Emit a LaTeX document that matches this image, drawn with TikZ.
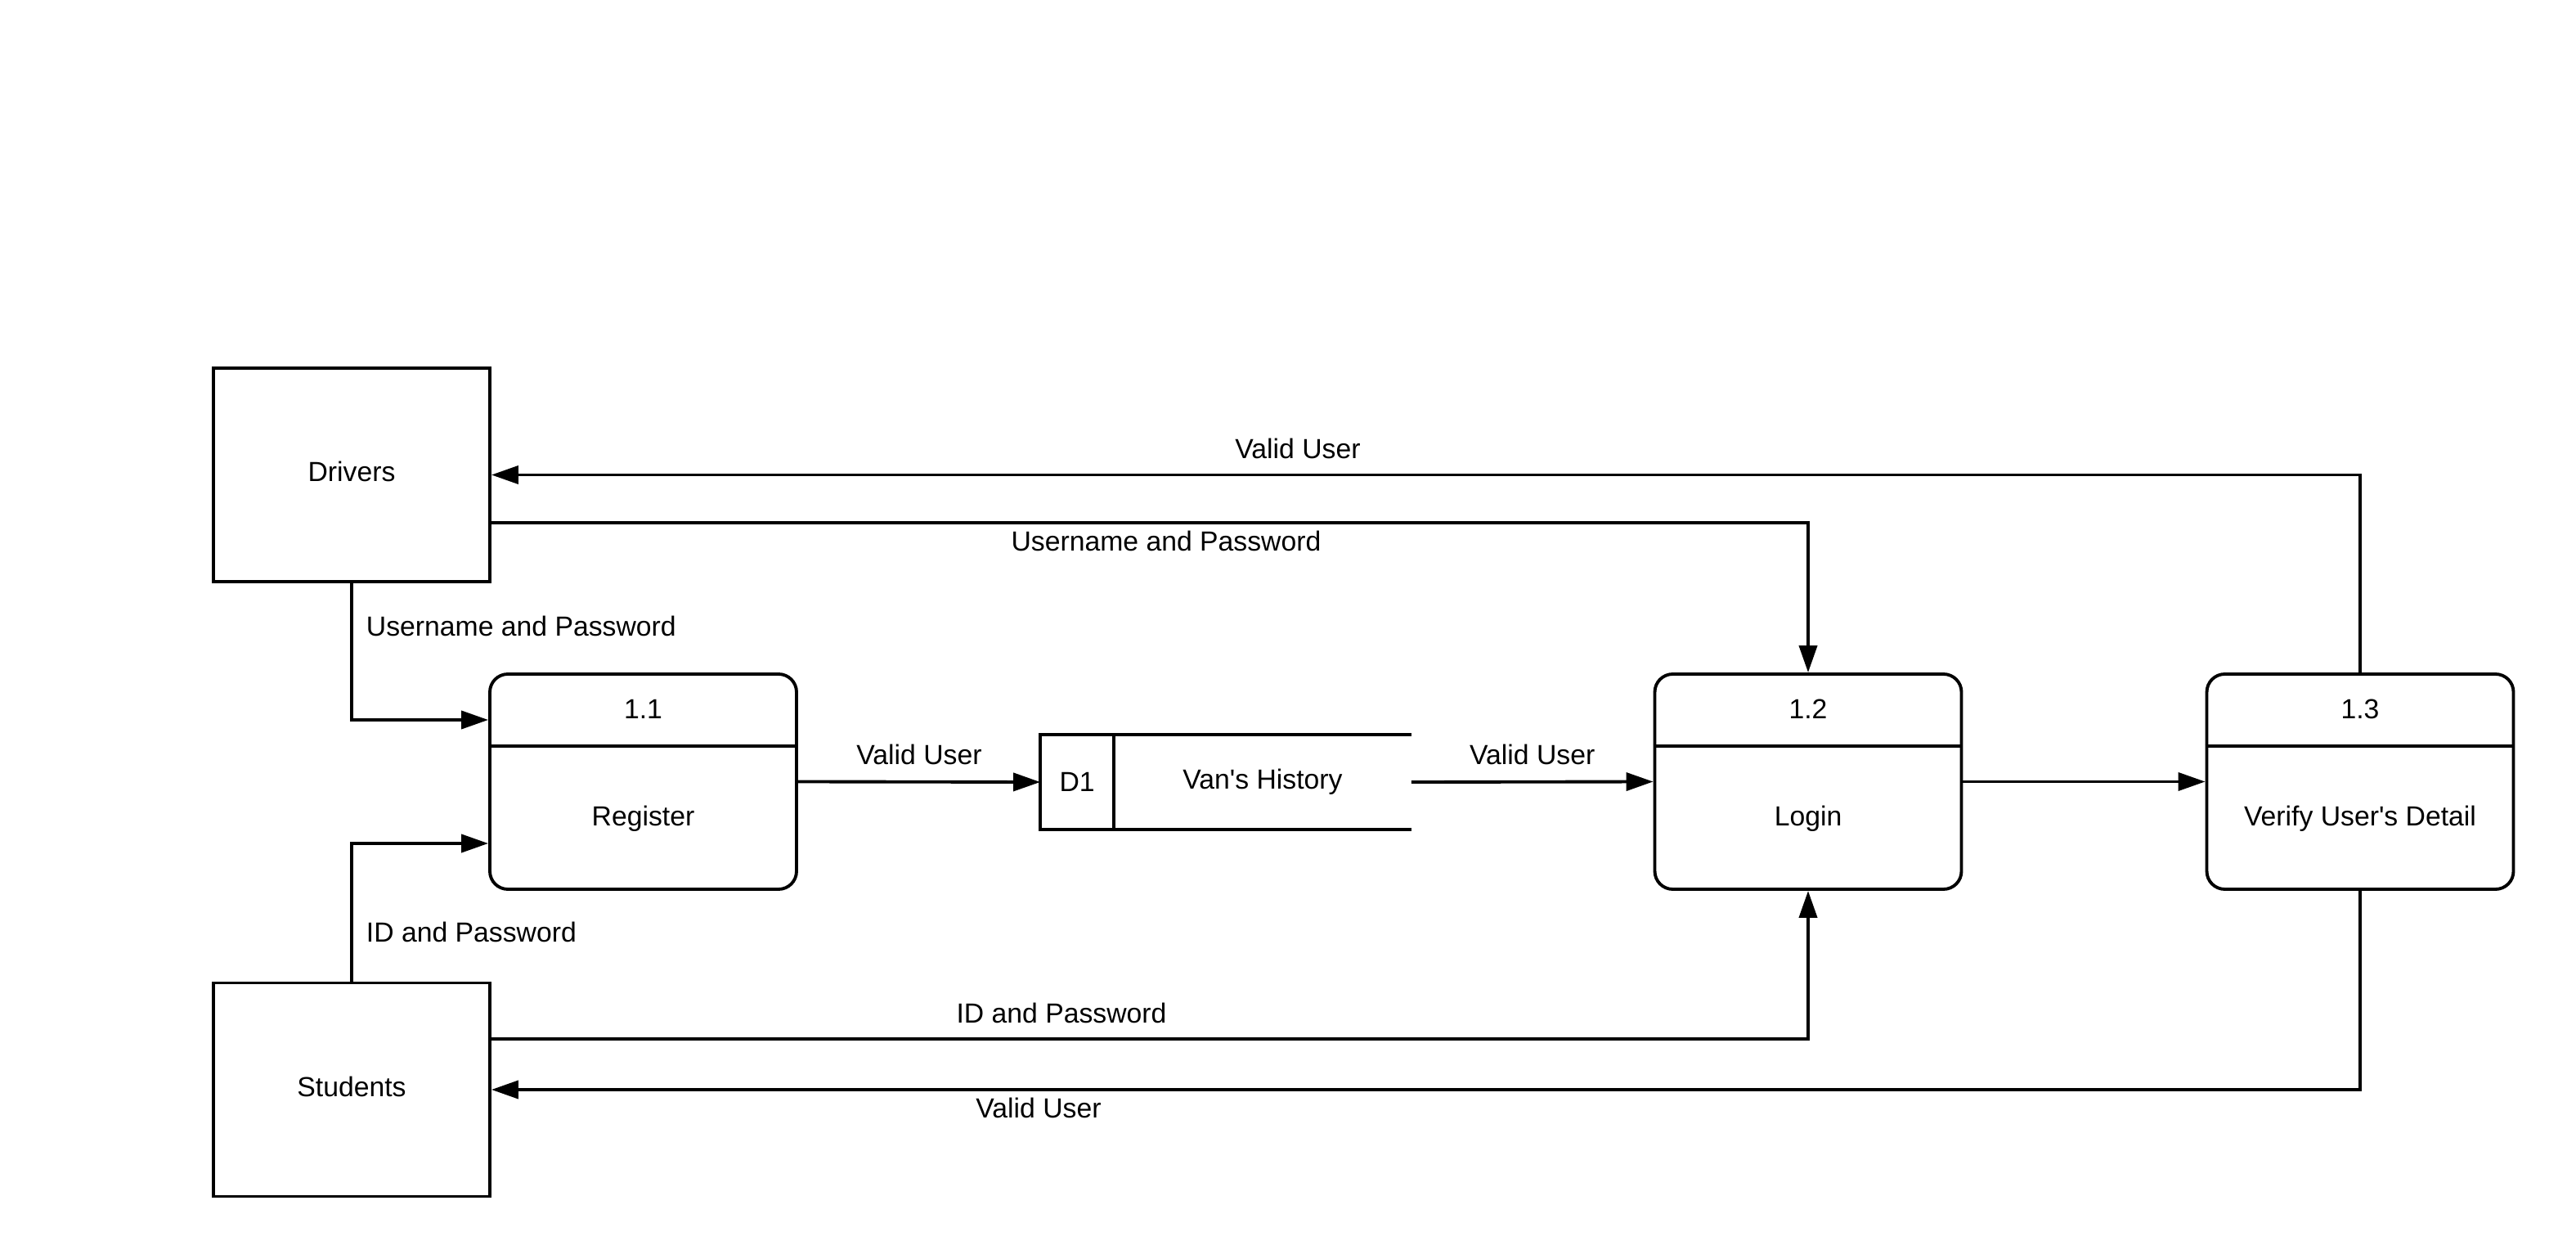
\documentclass[tikz,border=0pt]{standalone}
\usepackage{fontspec}
\setmainfont{Liberation Sans}
\usetikzlibrary{arrows.meta,positioning}

\begin{document}
\begin{tikzpicture}[line width=1.1pt, font=\fontsize{9.6}{11.5}\selectfont,
  entity/.style={draw, minimum width=3.38cm, minimum height=2.61cm, inner sep=0pt},
  procbox/.style={draw, rounded corners=2.2mm, minimum width=3.75cm, minimum height=2.63cm, inner sep=0pt},
  storebox/.style={minimum width=4.5cm, minimum height=1.125cm, inner sep=0pt},
  flow/.style={-{Triangle[length=3.3mm,width=2.2mm]}},
  lbl/.style={inner sep=0pt}]
\useasboundingbox (0,0) rectangle (31.5,15.38);

% external entities
\node [entity] (drivers) at (4.30,9.575) {};
\node (driverstxt) at ([yshift=0.4mm]drivers.center) {Drivers};
\node [entity] (students) at (4.30,2.06) {};
\node (studentstxt) at ([yshift=0.4mm]students.center) {Students};

% processes
\node [procbox] (register) at (7.865,5.825) {};
\draw ([yshift=-9mm]register.north west) -- ([yshift=-9mm]register.north east);
\node (registerno) at ([yshift=-4.5mm]register.north) {1.1};
\node (registertxt) at ([yshift=-4.5mm]register.center) {Register};

\node [procbox] (login) at (22.11,5.825) {};
\draw ([yshift=-9mm]login.north west) -- ([yshift=-9mm]login.north east);
\node (loginno) at ([yshift=-4.5mm]login.north) {1.2};
\node (logintxt) at ([yshift=-4.5mm]login.center) {Login};

\node [procbox] (verify) at (28.86,5.825) {};
\draw ([yshift=-9mm]verify.north west) -- ([yshift=-9mm]verify.north east);
\node (verifyno) at ([yshift=-4.5mm]verify.north) {1.3};
\node (verifytxt) at ([yshift=-4.5mm]verify.center) {Verify User\textquotesingle s Detail};

% data store
\node [storebox] (store) at (14.99,5.82) {};
\draw (store.north east) -- (store.north west) -- (store.south west) -- (store.south east);
\draw ([xshift=9mm]store.north west) -- ([xshift=9mm]store.south west);
\node (storeid) at ([xshift=4.5mm]store.west) {D1};
\node (storename) at ([xshift=4.5mm]store.center) {Van\textquotesingle s History};

% flows
\draw [flow] (drivers.south) |- ([yshift=7.55mm]register.west);
\node [lbl, anchor=west] (drvreg) at (4.46,7.73) {Username and Password};
\draw [flow] (students.north) |- ([yshift=-7.55mm]register.west);
\node [lbl, anchor=west] (stureg) at (4.46,3.99) {ID and Password};

\draw [flow] (register.east) -- node [lbl, above=1.9mm] (regstore) {Valid User} (store.west);
\draw [flow] (store.east) -- node [lbl, above=1.9mm] (storelogin) {Valid User} (login.west);
\draw [flow] (login.east) -- (verify.west);

\draw [flow] ([yshift=-5.85mm]drivers.east) -| (login.north);
\node [lbl] (drvlogin) at (14.26,8.77) {Username and Password};
\draw [flow] ([yshift=6.2mm]students.east) -| (login.south);
\node [lbl] (stulogin) at (12.98,3.00) {ID and Password};

\draw [flow] (verify.north) |- (drivers.east);
\node [lbl] (verdrv) at (15.87,9.90) {Valid User};
\draw [flow] (verify.south) |- (students.east);
\node [lbl] (verstu) at (12.70,1.84) {Valid User};

\end{tikzpicture}
\end{document}
